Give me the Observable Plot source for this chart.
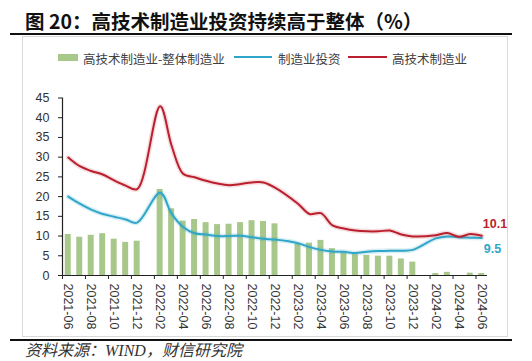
<!DOCTYPE html>
<html>
<head>
<meta charset="utf-8">
<script src="https://cdn.jsdelivr.net/npm/d3@7"></script>
<script src="https://cdn.jsdelivr.net/npm/@observablehq/plot@0.6"></script>
<style>
  body { margin: 0; width: 532px; height: 361px; position: relative; background: #fff; overflow: hidden; }
  .abs { position: absolute; white-space: nowrap; }
  .leg { position: absolute; top: 49px; height: 16px; line-height: 16px; font: 12.5px "Noto Sans CJK SC", sans-serif; color: #404040; white-space: nowrap; }
</style>
</head>
<body>
<div class="abs" style="left:25px;top:8px;font:700 19.5px 'Noto Sans CJK SC',sans-serif;color:#111;line-height:26px;">图 20：高技术制造业投资持续高于整体（%）</div>
<div class="abs" style="left:10px;top:33px;width:502px;height:2px;background:#111;"></div>
<div class="abs" style="left:22px;top:36px;width:486px;height:301px;border:1px solid #d9d9d9;box-sizing:border-box;"></div>
<div id="legend"></div>
<div id="chart" class="abs" style="left:0;top:80px;"></div>
<div class="abs" style="left:10px;top:339px;width:502px;height:2px;background:#111;"></div>
<div class="abs" style="left:25px;top:341px;font:italic 16px 'Liberation Serif','Noto Sans CJK SC',serif;color:#333;line-height:20px;">资料来源：WIND，财信研究院</div>
<script>
// ---- data ----
const months = [
  "2021-06","2021-07","2021-08","2021-09","2021-10","2021-11","2021-12",
  "2022-01","2022-02","2022-03","2022-04","2022-05","2022-06","2022-07","2022-08","2022-09","2022-10","2022-11","2022-12",
  "2023-01","2023-02","2023-03","2023-04","2023-05","2023-06","2023-07","2023-08","2023-09","2023-10","2023-11","2023-12",
  "2024-01","2024-02","2024-03","2024-04","2024-05","2024-06"
];
// 高技术制造业-整体制造业
const diff = [
  10.4, 9.7, 10.2, 10.6, 9.2, 8.4, 8.7,
  null, 21.8, 16.9, 13.8, 14.2, 13.4, 12.9, 13.0, 13.4, 13.9, 13.7, 13.1,
  null, 8.0, 8.2, 8.9, 6.8, 5.9, 5.3, 5.1, 4.9, 4.9, 4.2, 3.4,
  null, 0.5, 0.8, 0, 0.6, 0.5
];
// 制造业投资
const mfg = [
  20.0, 18.2, 16.7, 15.6, 14.9, 14.2, 13.4,
  null, 21.0, 15.7, 12.3, 10.7, 10.4, 10.0, 10.0, 10.1, 9.7, 9.3, 9.1,
  null, 8.2, 7.2, 6.5, 6.1, 6.0, 5.7, 6.0, 6.2, 6.3, 6.3, 6.5,
  null, 9.4, 9.9, 9.7, 9.6, 9.5
];
// 高技术制造业
const hitech = [
  29.9, 27.7, 26.5, 25.6, 24.1, 22.8, 21.9,
  null, 42.9, 32.9, 25.8, 24.9, 24.0, 23.3, 22.9, 23.2, 23.6, 23.6, 22.3,
  null, 18.2, 15.6, 15.8, 12.7, 11.9, 11.4, 11.2, 11.2, 11.4, 10.4, 9.9,
  null, 10.2, 10.8, 9.8, 10.5, 10.1
];
const xTickLabels = [
  "2021-06","2021-08","2021-10","2021-12","2022-02","2022-04","2022-06","2022-08","2022-10","2022-12",
  "2023-02","2023-04","2023-06","2023-08","2023-10","2023-12","2024-02","2024-04","2024-06"
];
const yTicks = [0, 5, 10, 15, 20, 25, 30, 35, 40, 45];
const seriesNames = ["高技术制造业-整体制造业", "制造业投资", "高技术制造业"];
const GREEN = "#a8c78a", BLUE = "#2fa5c8", RED = "#bb1f2e";

// ---- legend ----
const legend = document.getElementById("legend");
legend.innerHTML = `
  <div class="abs" style="left:58px;top:54px;width:20px;height:7px;background:${GREEN}"></div>
  <div class="leg" style="left:83px">${seriesNames[0]}</div>
  <div class="abs" style="left:234px;top:56px;width:38px;height:2px;background:${BLUE}"></div>
  <div class="leg" style="left:278px">${seriesNames[1]}</div>
  <div class="abs" style="left:348px;top:56px;width:39px;height:2px;background:${RED}"></div>
  <div class="leg" style="left:392px">${seriesNames[2]}</div>`;

// ---- chart ----
const rows = months.map((m, i) => ({m, diff: diff[i], mfg: mfg[i], hitech: hitech[i]}));
const barRows = rows.filter(d => d.diff != null);
const mfgRows = rows.filter(d => d.mfg != null);
const hiRows = rows.filter(d => d.hitech != null);
const last = [rows[rows.length - 1]];

const W = 532, H = 262, mL = 62, mR = 45, mT = 17.5, mB = 67;
const step = (W - mL - mR) / months.length;

const chart = Plot.plot({
  width: W, height: H,
  marginLeft: mL, marginRight: mR, marginTop: mT, marginBottom: mB,
  style: {background: "transparent", fontFamily: "'Liberation Sans', Arial, sans-serif", fontSize: "12px", color: "#333", overflow: "visible"},
  x: {type: "band", domain: months, paddingInner: 0.48, paddingOuter: 0.24, align: 0.5, round: false, axis: null, label: null},
  y: {domain: [0, 45], axis: null, label: null},
  marks: [
    Plot.barY(barRows, {x: "m", y: "diff", fill: GREEN}),
    Plot.line(mfgRows, {x: "m", y: "mfg", stroke: BLUE, strokeWidth: 5, strokeOpacity: 0.18, curve: "catmull-rom"}),
    Plot.line(mfgRows, {x: "m", y: "mfg", stroke: BLUE, strokeWidth: 2, curve: "catmull-rom"}),
    Plot.line(hiRows, {x: "m", y: "hitech", stroke: RED, strokeWidth: 5, strokeOpacity: 0.15, curve: "catmull-rom"}),
    Plot.line(hiRows, {x: "m", y: "hitech", stroke: RED, strokeWidth: 2, curve: "catmull-rom"}),
    Plot.ruleY([0], {stroke: "#222", strokeWidth: 1.2}),
    Plot.ruleX([months[0]], {dx: -step / 2, stroke: "#222", strokeWidth: 1.2}),
    Plot.axisY({ticks: yTicks, tickSize: 4, tickPadding: 9, fontSize: 12.5, fill: "#333", stroke: "#222", label: null}),
    Plot.axisX({ticks: xTickLabels, tickSize: 4, dx: -step / 2, tickFormat: () => "", stroke: "#222", label: null}),
    Plot.axisX({ticks: xTickLabels, tickSize: 0, tickPadding: 8, tickRotate: 90, fontSize: 12.5, fill: "#333", label: null}),
    Plot.text(last, {x: "m", y: "hitech", text: d => d.hitech.toFixed(1), textAnchor: "start", dx: 1, dy: -12, fill: RED, fontWeight: "bold", fontSize: 12.5}),
    Plot.text(last, {x: "m", y: "mfg", text: d => d.mfg.toFixed(1), textAnchor: "start", dx: 2, dy: 11, fill: BLUE, fontWeight: "bold", fontSize: 12.5})
  ]
});
document.getElementById("chart").appendChild(chart);
</script>
</body>
</html>
